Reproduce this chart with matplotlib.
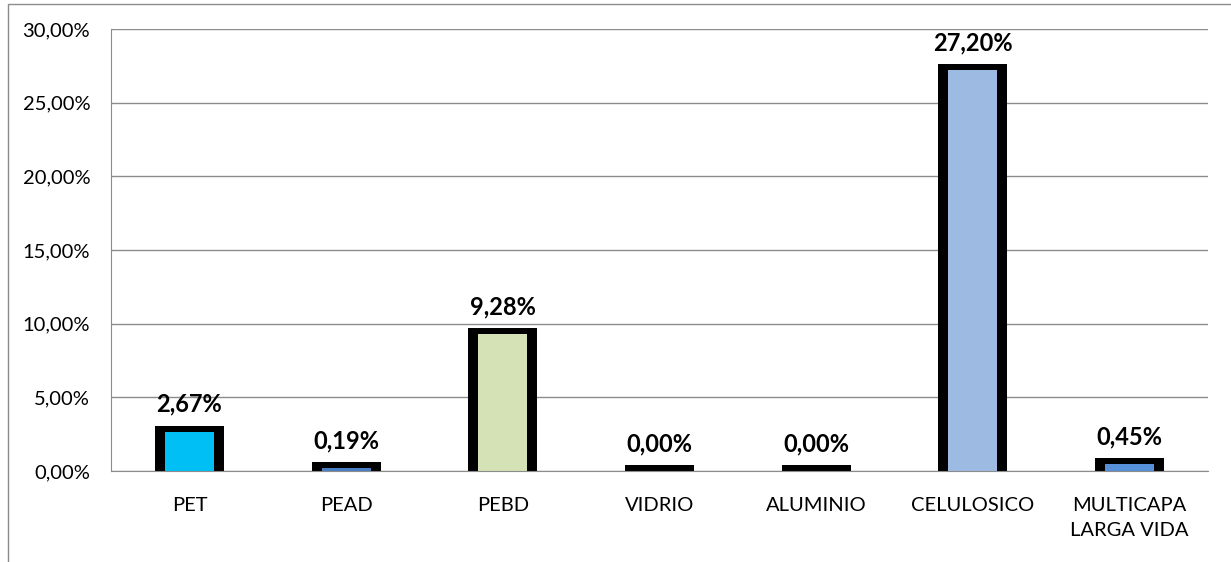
import matplotlib.pyplot as plt
from matplotlib.patches import Rectangle
from matplotlib.ticker import FuncFormatter

categorias = ['PET', 'PEAD', 'PEBD', 'VIDRIO', 'ALUMINIO', 'CELULOSICO', 'MULTICAPA\nLARGA VIDA']
porcentajes = [2.67, 0.19, 9.28, 0.00, 0.00, 27.20, 0.45]
colores = ['#00BFF5', '#4A7EC4', '#D4E2B6', '#4A7EC4', '#4A7EC4', '#9DBBE2', '#5590D8']

plt.rcParams['font.family'] = ['Lato', 'DejaVu Sans']

fig = plt.figure(figsize=(12.31, 5.62), dpi=100)
ax = fig.add_axes([0.0902, 0.1619, 0.8911, 0.7865])

# marco negro grueso: barra negra mas ancha detras de la barra de color
borde = 0.4
x = range(len(categorias))
ax.bar(x, [v + borde for v in porcentajes], width=0.44, color='black', zorder=3)
ax.bar(x, porcentajes, width=0.313, color=colores, zorder=4)

for i, v in enumerate(porcentajes):
    ax.annotate(f'{v:.2f}%'.replace('.', ','), (i, v), xytext=(0, 11.5), textcoords='offset points',
                ha='center', va='bottom', fontsize=17, fontweight='bold', zorder=5)

ax.set_xlim(-0.5, len(categorias) - 0.5)
ax.set_ylim(0, 30)
ax.set_yticks([0, 5, 10, 15, 20, 25, 30])
ax.yaxis.set_major_formatter(FuncFormatter(lambda v, p: f'{v:.2f}%'.replace('.', ',')))
ax.set_xticks(list(x))
ax.set_xticklabels(categorias, fontsize=14.5, linespacing=1.55, va='top')
ax.tick_params(axis='y', length=0, pad=15, labelsize=14.5)
ax.tick_params(axis='x', length=0, pad=19)

ax.grid(axis='y', color='#8c8c8c', linewidth=1, zorder=0)
for s in ['top', 'right']:
    ax.spines[s].set_visible(False)
ax.spines['left'].set_color('#8c8c8c')
ax.spines['bottom'].set_color('#8c8c8c')
ax.spines['bottom'].set_zorder(6)

# marco exterior del grafico (cortado a la derecha y abajo)
fig.patches.append(Rectangle((8 / 1231, -0.1), 1.2, 1.1 - 4 / 562, transform=fig.transFigure,
                             fill=False, edgecolor='#8c8c8c', linewidth=1))

fig.savefig('out.png', dpi=100)
